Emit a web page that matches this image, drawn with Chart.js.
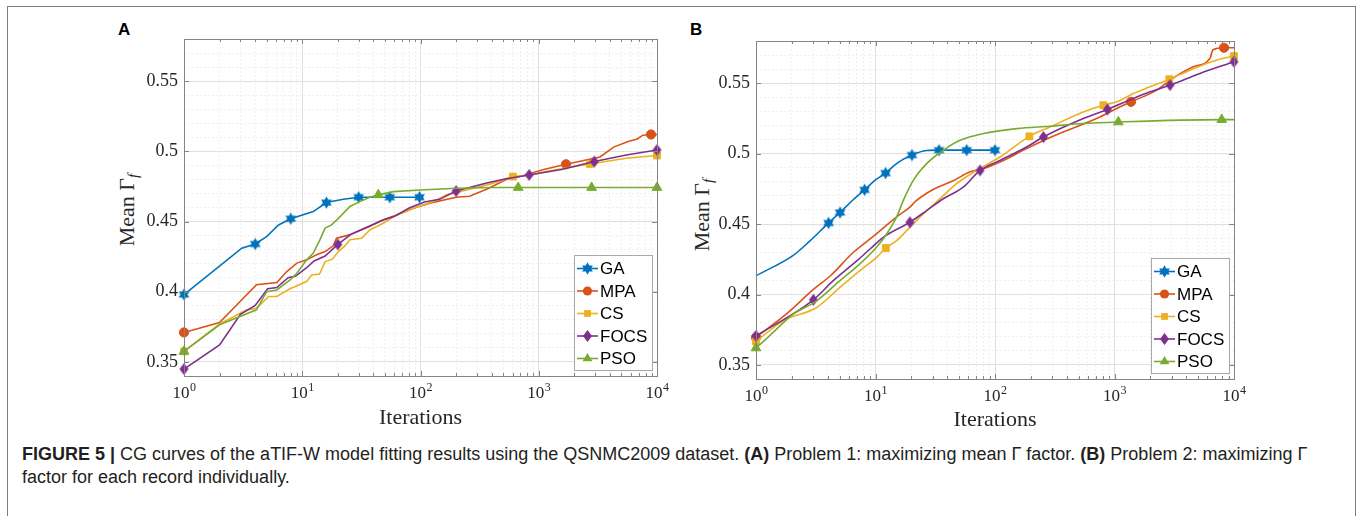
<!DOCTYPE html>
<html>
<head>
<meta charset="utf-8">
<script src="https://cdn.jsdelivr.net/npm/chart.js@4.4.1/dist/chart.umd.min.js"></script>
<style>
  html, body { margin: 0; padding: 0; background: #fff; }
  body { width: 1360px; height: 516px; position: relative; overflow: hidden; }
  .frame { position: absolute; left: 7px; top: 6px; width: 1347px; height: 560px; border: 1.5px solid #7d7d7d; }
  canvas { position: absolute; top: 30px; }
  .tag { position: absolute; top: 20px; font: bold 17px "Liberation Sans", Arial, sans-serif; color: #000; }
  .ylab { position: absolute; font: 22px "Liberation Serif", serif; color: #262626; white-space: nowrap;
          transform: translate(-50%, -50%) rotate(-90deg); }
  .ylab sub { font-size: 15px; vertical-align: -4px; }
  .caption { position: absolute; left: 22px; top: 443px; font: 18px "Liberation Sans", Arial, sans-serif;
             line-height: 23px; color: #231f20; white-space: nowrap; }
</style>
</head>
<body>
<div class="frame"></div>
<div class="tag" style="left:118px">A</div>
<div class="tag" style="left:690px">B</div>
<div class="ylab" style="left:128px; top:210px">Mean Γ<sub><i>f</i></sub></div>
<div class="ylab" style="left:703px; top:215px">Mean Γ<sub><i>f</i></sub></div>
<canvas id="chartA" width="580" height="410" style="left:100px"></canvas>
<canvas id="chartB" width="590" height="410" style="left:672px"></canvas>
<div class="caption"><b>FIGURE 5 |</b> CG curves of the aTIF-W model fitting results using the QSNMC2009 dataset. <b>(A)</b> Problem 1: maximizing mean Γ factor. <b>(B)</b> Problem 2: maximizing Γ<br>factor for each record individually.</div>

<script>
// ---- data: [iteration, mean gamma] ----
const SERIES = ["GA", "MPA", "CS", "FOCS", "PSO"];

// panel A
const A_GA = [[1, 0.398], [3.08, 0.431], [4, 0.434], [5, 0.4393], [6.3, 0.4476], [8, 0.452], [12.4, 0.4571],
  [16, 0.4635], [22.3, 0.4659], [30, 0.4673], [55, 0.4673], [98, 0.4673]];
const A_MPA = [[1, 0.371], [2, 0.378], [4.1, 0.405], [6.1, 0.4066], [7.4, 0.4144], [9, 0.4204], [10.9, 0.4227],
  [13.2, 0.4263], [15.6, 0.4286], [18.3, 0.4327], [19.5, 0.4381], [25, 0.4405], [30.7, 0.4436], [37, 0.4464],
  [48.5, 0.4512], [63, 0.4547], [87, 0.4595], [120, 0.4631], [200, 0.4673], [260, 0.468], [370, 0.4734],
  [530, 0.48], [760, 0.483], [1100, 0.487], [1700, 0.4908], [2750, 0.4945], [3300, 0.496], [4300, 0.503],
  [5700, 0.507], [6800, 0.5088], [7600, 0.5115], [8900, 0.512], [10000, 0.512]];
const A_CS = [[1, 0.3575], [2, 0.377], [3.4, 0.3871], [4.1, 0.3883], [5.2, 0.3966], [6.1, 0.3966], [7.8, 0.402],
  [10.9, 0.4073], [12, 0.412], [14, 0.4126], [15.6, 0.4215], [18, 0.4232], [20.2, 0.4286], [23, 0.4327],
  [25.3, 0.437], [31.8, 0.4381], [37.3, 0.444], [48.5, 0.4488], [63, 0.4547], [87, 0.4595], [129, 0.4642],
  [166, 0.469], [246, 0.4725], [400, 0.477], [605, 0.482], [800, 0.483], [1200, 0.486], [2700, 0.491],
  [5500, 0.4951], [10000, 0.497]];
const A_FOCS = [[1, 0.3449], [2, 0.3622], [3, 0.3839], [4, 0.3903], [5.1, 0.4022], [6.1, 0.403], [7.6, 0.41],
  [8.8, 0.4112], [10.9, 0.4171], [12.6, 0.4219], [15.6, 0.4254], [20, 0.4337], [25.8, 0.4409], [34.4, 0.4456],
  [46, 0.4504], [61, 0.4539], [81, 0.4598], [108, 0.4639], [145, 0.4658], [200, 0.4717], [370, 0.4776],
  [530, 0.4805], [830, 0.4832], [1560, 0.4871], [2950, 0.4927], [5500, 0.4974], [10000, 0.501]];
const A_PSO = [[1, 0.3575], [2, 0.3765], [4.1, 0.3871], [5, 0.4001], [6.1, 0.4013], [7.9, 0.4085], [9, 0.4132],
  [10.9, 0.4227], [12.4, 0.4275], [14.1, 0.437], [15.6, 0.4453], [17.7, 0.4476], [20.9, 0.4535], [25.3, 0.4607],
  [30.7, 0.4642], [37.3, 0.4673], [44, 0.469], [59, 0.4713], [99, 0.4725], [202, 0.4737], [400, 0.4742],
  [670, 0.4742], [2800, 0.4742], [10000, 0.4742]];
const A_MARKS = {
  GA: [1, 4, 8, 16, 30, 55, 98],
  MPA: [1, 1700, 8900],
  CS: [1, 605, 2700, 10000],
  FOCS: [1, 20, 200, 830, 2950, 10000],
  PSO: [1, 44, 670, 2800, 10000],
};

// panel B
const B_GA = [[1, 0.4133], [2.05, 0.4278], [2.8, 0.4377], [4.05, 0.4508], [5.05, 0.4582], [6.5, 0.4673],
  [8.1, 0.4743], [10, 0.4814], [12.15, 0.4862], [15.2, 0.4933], [20.2, 0.499], [26.7, 0.5022], [34, 0.5025],
  [58, 0.5025], [100, 0.5025]];
const B_MPA = [[1, 0.3695], [1.84, 0.3869], [3.02, 0.4036], [4.2, 0.4133], [6.5, 0.4298],
  [10, 0.4425], [15.2, 0.4554], [19.4, 0.462], [21.6, 0.4661], [30.6, 0.4747], [44.8, 0.4808], [62, 0.4871],
  [80, 0.4893], [110, 0.494], [184, 0.5036], [289, 0.5115], [756, 0.5261], [1043, 0.5321], [1374, 0.5368],
  [2255, 0.5451], [2913, 0.5522], [4560, 0.5617], [6300, 0.5677], [6650, 0.5736], [8250, 0.5752], [10000, 0.5752]];
const B_CS = [[1, 0.3667], [1.69, 0.3813], [3.22, 0.3908], [5.04, 0.405], [7.4, 0.4169], [10.2, 0.4264],
  [12.2, 0.433], [15, 0.4383], [19.4, 0.4477], [25.1, 0.4573], [35.8, 0.4691], [47.6, 0.4787], [70, 0.4881],
  [110, 0.4976], [194, 0.5123], [289, 0.519], [548, 0.5296], [806, 0.5344], [1043, 0.5368], [1437, 0.5427],
  [1983, 0.5475], [2875, 0.5529], [4290, 0.5593], [7170, 0.5665], [10000, 0.5693]];
const B_FOCS = [[1, 0.3706], [3.02, 0.3962], [4.43, 0.4098], [7, 0.424], [9, 0.4323], [11.6, 0.4406],
  [19.4, 0.4513], [26.8, 0.4596], [36.9, 0.468], [54.3, 0.4762], [74.9, 0.4881], [110, 0.4952], [184, 0.5047],
  [254, 0.5118], [548, 0.5249], [871, 0.5314], [1437, 0.5392], [1983, 0.5439], [2913, 0.5487], [5190, 0.557],
  [10000, 0.5653]];
const B_PSO = [[1, 0.362], [1.31, 0.371], [2.05, 0.386], [3.22, 0.3955], [5.04, 0.4098], [7.4, 0.4217],
  [10.2, 0.4335], [12.4, 0.443], [15, 0.4549], [17.1, 0.4668], [20.7, 0.481], [26.8, 0.4929], [36.9, 0.5024],
  [50.9, 0.5095], [79.5, 0.5143], [152, 0.5178], [289, 0.5195], [548, 0.5214], [1077, 0.5225], [7890, 0.5242],
  [10000, 0.5242]];
const B_MARKS = {
  GA: [4.05, 5.05, 8.1, 12.15, 20.2, 34, 58, 100],
  MPA: [1, 1374, 8250],
  CS: [1, 12.2, 194, 806, 2875, 10000],
  FOCS: [1, 3.02, 19.4, 74.9, 254, 871, 2913, 10000],
  PSO: [1, 1077, 7890],
};

// axes
const X_DECADES = [1, 10, 100, 1000, 10000];
const X_TICK_EXP = ["0", "1", "2", "3", "4"];
const Y_MAJOR = [0.35, 0.4, 0.45, 0.5, 0.55];
const Y_TICK_LABELS = ["0.35", "0.4", "0.45", "0.5", "0.55"];
const Y_MINOR = [0.34, 0.35, 0.36, 0.37, 0.38, 0.39, 0.4, 0.41, 0.42, 0.43, 0.44, 0.45, 0.46, 0.47, 0.48,
  0.49, 0.5, 0.51, 0.52, 0.53, 0.54, 0.55, 0.56, 0.57, 0.58];

// x grid positions 1..9 x each decade
const X_MINOR = [];
X_DECADES.forEach(d => {
  for (let k = 1; k <= 9; k++) if (d * k <= 10000) X_MINOR.push(d * k);
});

const COLORS = {
  GA: "#0072BD",
  MPA: "#D95319",
  CS: "#EDB120",
  FOCS: "#7E2F8E",
  PSO: "#77AC30",
};

// hexagram (GA) and tall diamond (FOCS) markers, drawn once into small canvases
function makeHexagram(color, r) {
  const c = document.createElement("canvas");
  const s = Math.ceil(r * 2 + 2);
  c.width = s;
  c.height = s;
  const g = c.getContext("2d");
  g.fillStyle = color;
  g.beginPath();
  for (let i = 0; i < 12; i++) {
    const rad = i % 2 === 0 ? r : r / Math.sqrt(3);
    const a = -Math.PI / 2 + (i * Math.PI) / 6;
    const px = s / 2 + rad * Math.cos(a);
    const py = s / 2 + rad * Math.sin(a);
    i ? g.lineTo(px, py) : g.moveTo(px, py);
  }
  g.closePath();
  g.fill();
  return c;
}
function makeDiamond(color, w, h) {
  const c = document.createElement("canvas");
  c.width = w + 2;
  c.height = h + 2;
  const g = c.getContext("2d");
  g.fillStyle = color;
  g.beginPath();
  g.moveTo(c.width / 2, 1);
  g.lineTo(c.width - 1, c.height / 2);
  g.lineTo(c.width / 2, c.height - 1);
  g.lineTo(1, c.height / 2);
  g.closePath();
  g.fill();
  return c;
}

const MARKERS = {
  GA: { style: makeHexagram(COLORS.GA, 6.2), r: 5 },
  MPA: { style: "circle", r: 4.6 },
  CS: { style: "rect", r: 4.8 },
  FOCS: { style: makeDiamond(COLORS.FOCS, 9, 12), r: 5 },
  PSO: { style: "triangle", r: 5.6 },
};

function drawMarker(ctx, name, x, y) {
  const m = MARKERS[name];
  if (typeof m.style !== "string") {
    ctx.drawImage(m.style, x - m.style.width / 2, y - m.style.height / 2);
    return;
  }
  const r = m.r;
  ctx.fillStyle = COLORS[name];
  ctx.beginPath();
  if (m.style === "circle") {
    ctx.arc(x, y, r, 0, Math.PI * 2);
  } else if (m.style === "rect") {
    const s = r * Math.SQRT1_2;
    ctx.rect(x - s, y - s, 2 * s, 2 * s);
  } else if (m.style === "triangle") {
    for (let i = 0; i < 3; i++) {
      const a = (i * 2 * Math.PI) / 3;
      const px = x + Math.sin(a) * r;
      const py = y - Math.cos(a) * r;
      i ? ctx.lineTo(px, py) : ctx.moveTo(px, py);
    }
    ctx.closePath();
  }
  ctx.fill();
}

const isMajorY = v => Y_MAJOR.some(m => Math.abs(m - v) < 1e-9);
const isDecade = v => X_DECADES.some(d => Math.abs(d - v) < 1e-9);

// MATLAB-like axes box, inward ticks, superscript x labels and legend
const matlabAxes = {
  id: "matlabAxes",
  afterDraw(chart) {
    const { ctx, chartArea: a } = chart;
    const x = chart.scales.x;
    const y = chart.scales.y;
    ctx.save();

    ctx.strokeStyle = "#858585";
    ctx.lineWidth = 1;
    ctx.beginPath();
    X_MINOR.forEach(v => {
      const px = Math.round(x.getPixelForValue(v)) + 0.5;
      const len = isDecade(v) ? 5 : 3;
      ctx.moveTo(px, a.bottom);
      ctx.lineTo(px, a.bottom - len);
      ctx.moveTo(px, a.top);
      ctx.lineTo(px, a.top + len);
    });
    Y_MAJOR.forEach(v => {
      const py = Math.round(y.getPixelForValue(v)) + 0.5;
      ctx.moveTo(a.left, py);
      ctx.lineTo(a.left + 5, py);
      ctx.moveTo(a.right, py);
      ctx.lineTo(a.right - 5, py);
    });
    ctx.stroke();
    ctx.strokeRect(Math.round(a.left) + 0.5, Math.round(a.top) + 0.5,
      Math.round(a.right - a.left), Math.round(a.bottom - a.top));

    // x tick labels 10^k
    ctx.fillStyle = "#262626";
    ctx.textBaseline = "alphabetic";
    X_DECADES.forEach((d, i) => {
      const px = x.getPixelForValue(d);
      ctx.font = '17px "Liberation Serif"';
      const wBase = ctx.measureText("10").width;
      ctx.font = '12px "Liberation Serif"';
      const wExp = ctx.measureText(X_TICK_EXP[i]).width;
      const left = px - (wBase + wExp) / 2;
      ctx.font = '17px "Liberation Serif"';
      ctx.textAlign = "left";
      ctx.fillText("10", left, a.bottom + 22);
      ctx.font = '12px "Liberation Serif"';
      ctx.fillText(X_TICK_EXP[i], left + wBase + 0.5, a.bottom + 15);
    });

    // legend, lower right inside the axes
    const lw = 78, lh = 115;
    const lx = Math.round(a.right - 5 - lw);
    const ly = Math.round(a.bottom - 6 - lh);
    ctx.fillStyle = "#fff";
    ctx.fillRect(lx, ly, lw, lh);
    ctx.strokeStyle = "#a8a8a8";
    ctx.strokeRect(lx + 0.5, ly + 0.5, lw, lh);
    ctx.font = '17px "Liberation Sans"';
    ctx.textAlign = "left";
    ctx.textBaseline = "middle";
    SERIES.forEach((name, i) => {
      const cy = ly + 13.5 + i * 22.5;
      ctx.strokeStyle = COLORS[name];
      ctx.lineWidth = 1.6;
      ctx.beginPath();
      ctx.moveTo(lx + 3, cy);
      ctx.lineTo(lx + 24, cy);
      ctx.stroke();
      drawMarker(ctx, name, lx + 13.5, cy);
      ctx.fillStyle = "#000";
      ctx.fillText(name, lx + 26, cy + 1);
    });
    ctx.restore();
  },
};

function buildDataset(name, pts, marks, smooth) {
  return {
    label: name,
    data: pts.map(([x, y]) => ({ x, y })),
    borderColor: COLORS[name],
    backgroundColor: COLORS[name],
    borderWidth: 1.6,
    fill: false,
    tension: 0,
    cubicInterpolationMode: smooth ? "monotone" : "default",
    pointStyle: MARKERS[name].style,
    pointRadius: c => (c.raw && marks.includes(c.raw.x) ? MARKERS[name].r : 0),
    pointHoverRadius: 0,
    pointBackgroundColor: COLORS[name],
    pointBorderColor: COLORS[name],
    pointBorderWidth: 1,
    clip: 14,
  };
}

function buildChart(id, series, marks, box, smooth) {
  const gridColor = major => (major ? "#e0e0e0" : "#efefef");
  return new Chart(document.getElementById(id), {
    type: "line",
    data: {
      datasets: SERIES.map((name, i) => buildDataset(name, series[i], marks[name], smooth)).reverse(),
    },
    options: {
      responsive: false,
      animation: false,
      devicePixelRatio: 1,
      events: [],
      layout: { padding: { top: box.top, right: box.right, bottom: 0, left: 0 } },
      plugins: { legend: { display: false }, tooltip: { enabled: false } },
      scales: {
        x: {
          type: "logarithmic",
          min: 1,
          max: 10000,
          afterBuildTicks: s => {
            s.ticks = X_MINOR.map(v => ({ value: v, major: isDecade(v) }));
          },
          afterFit: s => {
            s.height = box.xHeight;
            s.paddingLeft = 0;
            s.paddingRight = 0;
          },
          grid: {
            drawTicks: false,
            color: c => gridColor(c.tick && isDecade(c.tick.value)),
            lineWidth: 1,
          },
          border: {
            display: false,
            dash: c => (c.tick && isDecade(c.tick.value) ? [] : [2, 2]),
          },
          ticks: { display: false, autoSkip: false },
          title: {
            display: true,
            text: "Iterations",
            color: "#262626",
            font: { family: "Liberation Serif", size: 22 },
            padding: { top: 0, bottom: box.titlePad },
          },
        },
        y: {
          type: "linear",
          min: 0.34,
          max: 0.58,
          afterBuildTicks: s => {
            s.ticks = Y_MINOR.map(v => ({ value: v }));
          },
          afterFit: s => {
            s.width = 84;
            s.paddingTop = 0;
            s.paddingBottom = 0;
          },
          grid: {
            drawTicks: false,
            color: c => gridColor(c.tick && isMajorY(c.tick.value)),
            lineWidth: 1,
          },
          border: {
            display: false,
            dash: c => (c.tick && isMajorY(c.tick.value) ? [] : [2, 2]),
          },
          ticks: {
            autoSkip: false,
            padding: 6,
            color: "#262626",
            font: { family: "Liberation Serif", size: 18 },
            callback: value => {
              const idx = Y_MAJOR.findIndex(m => Math.abs(m - value) < 1e-9);
              return idx >= 0 ? Y_TICK_LABELS[idx] : "";
            },
          },
        },
      },
    },
    plugins: [matlabAxes],
  });
}

buildChart("chartA", [A_GA, A_MPA, A_CS, A_FOCS, A_PSO], A_MARKS,
  { top: 9, right: 23, xHeight: 64, titlePad: 9 }, false);
buildChart("chartB", [B_GA, B_MPA, B_CS, B_FOCS, B_PSO], B_MARKS,
  { top: 11, right: 28, xHeight: 61, titlePad: 7 }, true);
</script>
</body>
</html>
